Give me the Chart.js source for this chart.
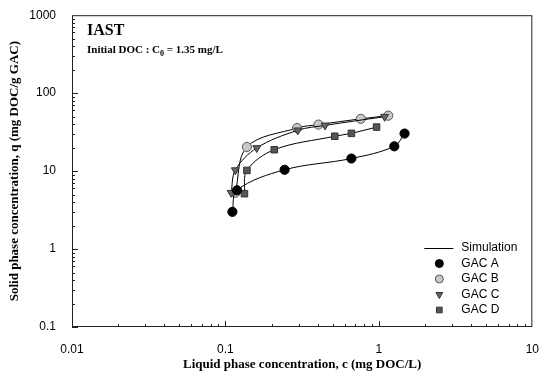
<!DOCTYPE html>
<html>
<head>
<meta charset="utf-8">
<script src="https://cdn.jsdelivr.net/npm/chart.js@4/dist/chart.umd.min.js"></script>
<style>
  html, body { margin: 0; padding: 0; background: #fff; }
  #wrap { width: 546px; height: 379px; }
</style>
</head>
<body>
<div id="wrap"><canvas id="chart" width="546" height="379"></canvas></div>
<script>
// values (c in mg DOC/L, q in mg DOC/g GAC)
const gacA_c = [0.111, 0.119, 0.243, 0.662, 1.26, 1.47];
const gacA_q = [3.0, 5.68, 10.4, 14.5, 20.8, 30.3];
const gacB_c = [0.116, 0.138, 0.293, 0.404, 0.762, 1.15];
const gacB_q = [5.28, 20.4, 35.7, 39.5, 46.8, 51.4];
const gacC_c = [0.109, 0.116, 0.160, 0.296, 0.446, 1.09];
const gacC_q = [5.28, 10.3, 19.8, 33.4, 38.6, 49.9];
const gacD_c = [0.133, 0.138, 0.208, 0.516, 0.662, 0.966];
const gacD_q = [5.13, 10.2, 18.8, 28.0, 30.5, 36.7];

const xTicks = [0.01, 0.1, 1, 10];
const yTicks = [0.1, 1, 10, 100, 1000];
const legendLabels = ["Simulation", "GAC A", "GAC B", "GAC C", "GAC D"];

const SANS = "'Liberation Sans', Arial, sans-serif";
const SERIF = "'Liberation Serif', 'Times New Roman', serif";

function pts(cs, qs) {
  return cs.map((c, i) => ({ x: c, y: qs[i] }));
}

const markerStyles = [
  { pointStyle: "circle", bg: "#000000", border: "#000000", rot: 0 },
  { pointStyle: "circle", bg: "#c8c8c8", border: "#555555", rot: 0 },
  { pointStyle: "triangle", bg: "#666666", border: "#333333", rot: 180 },
  { pointStyle: "rect", bg: "#555555", border: "#333333", rot: 0 },
];

// lower order is painted on top
function series(label, cs, qs, m, order) {
  return {
    label: label,
    data: pts(cs, qs),
    order: order,
    showLine: true,
    borderColor: "#000",
    borderWidth: 1,
    tension: 0.35,
    pointStyle: m.pointStyle,
    pointRotation: m.rot,
    pointRadius: 4.6,
    pointBackgroundColor: m.bg,
    pointBorderColor: m.border,
    pointBorderWidth: 1,
  };
}

// box, inward ticks, annotations and legend
const decorations = {
  id: "decorations",
  afterDraw(chart) {
    const ctx = chart.ctx;
    const a = chart.chartArea;
    const xs = chart.scales.x;
    const ys = chart.scales.y;
    ctx.save();

    // frame
    ctx.strokeStyle = "#222";
    ctx.lineWidth = 1;
    ctx.strokeRect(a.left + 0.5, a.top + 0.5, a.right - a.left - 1, a.bottom - a.top - 1);

    // inward ticks
    ctx.beginPath();
    for (let d = -2; d <= 0; d++) {
      for (let m = 1; m <= 9; m++) {
        const px = Math.round(xs.getPixelForValue(m * Math.pow(10, d))) + 0.5;
        const len = m === 1 ? 6 : 3;
        ctx.moveTo(px, a.bottom);
        ctx.lineTo(px, a.bottom - len);
      }
    }
    for (let d = -1; d <= 2; d++) {
      for (let m = 1; m <= 9; m++) {
        const py = Math.round(ys.getPixelForValue(m * Math.pow(10, d))) + 0.5;
        const len = m === 1 ? 6 : 3;
        ctx.moveTo(a.left, py);
        ctx.lineTo(a.left + len, py);
      }
    }
    ctx.stroke();

    // annotations
    ctx.fillStyle = "#000";
    ctx.textBaseline = "alphabetic";
    ctx.textAlign = "left";
    ctx.font = "bold 16px " + SERIF;
    ctx.fillText("IAST", a.left + 15, a.top + 20);
    ctx.font = "bold 11px " + SERIF;
    let tx = a.left + 15;
    const ty = a.top + 38;
    const part1 = "Initial DOC : C";
    ctx.fillText(part1, tx, ty);
    tx += ctx.measureText(part1).width;
    ctx.font = "bold 8px " + SERIF;
    ctx.fillText("0", tx, ty + 3);
    tx += ctx.measureText("0").width;
    ctx.font = "bold 11px " + SERIF;
    ctx.fillText(" = 1.35 mg/L", tx, ty);

    // axis titles
    ctx.font = "bold 13px " + SERIF;
    ctx.textAlign = "center";
    ctx.textBaseline = "middle";
    ctx.fillText("Liquid phase concentration, c (mg DOC/L)", (a.left + a.right) / 2, 365);
    ctx.save();
    ctx.translate(15, (a.top + a.bottom) / 2);
    ctx.rotate(-Math.PI / 2);
    ctx.fillText("Solid phase concentration, q (mg DOC/g GAC)", 0, 0);
    ctx.restore();

    // legend
    const lx = a.right - 108;
    const ly = a.bottom - 79;
    const gap = 15.5;
    ctx.font = "12px " + SANS;
    ctx.textAlign = "left";
    ctx.textBaseline = "middle";
    legendLabels.forEach((lab, i) => {
      const y = ly + i * gap;
      if (i === 0) {
        ctx.beginPath();
        ctx.strokeStyle = "#000";
        ctx.lineWidth = 1;
        ctx.moveTo(lx, Math.round(y) + 0.5);
        ctx.lineTo(lx + 29, Math.round(y) + 0.5);
        ctx.stroke();
      } else {
        const m = markerStyles[i - 1];
        ctx.fillStyle = m.bg;
        ctx.strokeStyle = m.border;
        ctx.lineWidth = 1;
        Chart.helpers.drawPoint(ctx, {
          pointStyle: m.pointStyle,
          rotation: m.rot,
          radius: 4,
          borderWidth: 1,
        }, lx + 15, y);
      }
      ctx.fillStyle = "#000";
      ctx.fillText(lab, lx + 37, y);
    });
    ctx.restore();
  },
};

Chart.register(decorations);

new Chart(document.getElementById("chart"), {
  type: "scatter",
  data: {
    datasets: [
      series("GAC A", gacA_c, gacA_q, markerStyles[0], 0),
      series("GAC B", gacB_c, gacB_q, markerStyles[1], 3),
      series("GAC C", gacC_c, gacC_q, markerStyles[2], 2),
      series("GAC D", gacD_c, gacD_q, markerStyles[3], 1),
    ],
  },
  options: {
    responsive: false,
    animation: false,
    layout: { padding: { top: 13, right: 6, left: 0, bottom: 0 } },
    plugins: {
      legend: { display: false },
      tooltip: { enabled: false },
    },
    scales: {
      x: {
        type: "logarithmic",
        min: 0.01,
        max: 10,
        grid: { display: false },
        border: { display: false },
        afterBuildTicks: (s) => { s.ticks = xTicks.map((v) => ({ value: v })); },
        afterFit: (s) => { s.height = 52; },
        ticks: {
          autoSkip: false,
          maxRotation: 0,
          padding: 7,
          color: "#000",
          font: { family: SANS, size: 12 },
          callback: (v) => String(v),
        },
      },
      y: {
        type: "logarithmic",
        min: 0.1,
        max: 1000,
        grid: { display: false },
        border: { display: false },
        afterBuildTicks: (s) => { s.ticks = yTicks.map((v) => ({ value: v })); },
        afterFit: (s) => { s.width = 72; },
        ticks: {
          autoSkip: false,
          padding: 8,
          color: "#000",
          font: { family: SANS, size: 12 },
          callback: (v) => String(v),
        },
      },
    },
  },
});
</script>
</body>
</html>
